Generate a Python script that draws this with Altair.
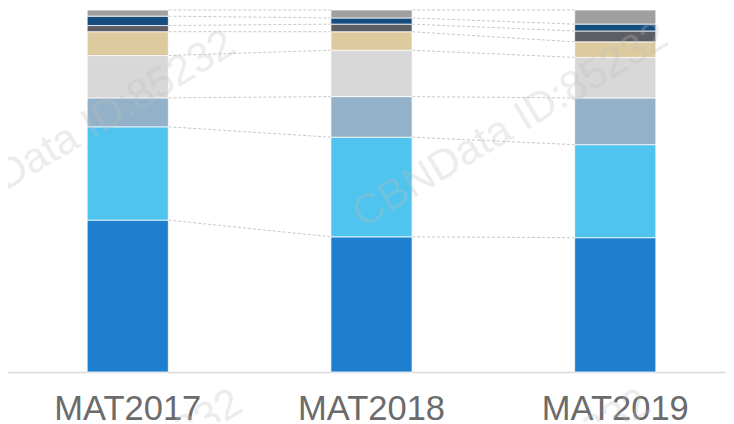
import altair as alt
import pandas as pd

categories = ["MAT2017", "MAT2018", "MAT2019"]
series = ["Series 1", "Series 2", "Series 3", "Series 4",
          "Series 5", "Series 6", "Series 7", "Series 8"]
colors = ["#1F7FCF", "#4FC4EF", "#93B2C9", "#D8D8D8",
          "#DDCB9F", "#5D5E63", "#154E7E", "#A0A19F"]
# values per series (bottom to top), one per category, percent
s1 = [42.0, 37.3, 37.1]
s2 = [25.8, 27.5, 25.7]
s3 = [8.0, 11.2, 12.9]
s4 = [11.7, 12.8, 11.2]
s5 = [6.6, 5.1, 4.3]
s6 = [1.7, 2.1, 3.0]
s7 = [2.6, 1.7, 1.9]
s8 = [1.7, 2.2, 3.9]
values = [s1, s2, s3, s4, s5, s6, s7, s8]
watermark = "CBNData ID:85232"

rows = []
for k, (name, vals) in enumerate(zip(series, values)):
    for c, v in zip(categories, vals):
        rows.append({"cat": c, "series": name, "value": v, "order": k})
bars_df = pd.DataFrame(rows)

# connector lines between cumulative boundaries of neighbouring bars
totals = [sum(v[i] for v in values) for i in range(len(categories))]
conn = []
for i in range(len(categories) - 1):
    cum_a = 0.0
    cum_b = 0.0
    for k in range(len(series)):
        cum_a += values[k][i]
        cum_b += values[k][i + 1]
        conn.append({"from": categories[i], "to": categories[i + 1],
                     "ya": cum_a / totals[i], "yb": cum_b / totals[i + 1]})
conn_df = pd.DataFrame(conn)

wm_df = pd.DataFrame({"t": [watermark] * 4,
                      "px": [69, 502, 76, 484],
                      "py": [123, 115, 482, 482]})

xscale = alt.Scale(domain=categories, range=[-2, 729],
                   paddingInner=0.667, paddingOuter=0.333)
yscale = alt.Scale(domain=[0, 1])

xaxis = alt.Axis(title=None, labelAngle=0, labelAlign="center",
                 labelBaseline="alphabetic", bandPosition=0.5,
                 ticks=False, tickSize=0, labelFontSize=34.5,
                 labelFont="Liberation Sans", labelColor="#6B6B6B",
                 labelPadding=47, domainColor="#D9D9D9", domainWidth=1.5)

rules = alt.Chart(conn_df).mark_rule(
    color="#C8C8C8", strokeWidth=1, strokeDash=[3, 2]
).encode(
    x=alt.X("from:N", bandPosition=1, scale=xscale, sort=categories, axis=xaxis),
    x2=alt.X2("to:N", bandPosition=0),
    y=alt.Y("ya:Q", scale=yscale, axis=None),
    y2="yb:Q",
)

bars = alt.Chart(bars_df).mark_bar(stroke="#FFFFFF", strokeWidth=0.75).encode(
    x=alt.X("cat:N", scale=xscale, sort=categories, axis=xaxis),
    y=alt.Y("value:Q", stack="normalize", scale=yscale, axis=None),
    color=alt.Color("series:N", scale=alt.Scale(domain=series, range=colors),
                    legend=None),
    order=alt.Order("order:Q"),
)

marks = alt.Chart(wm_df).mark_text(
    font="Liberation Sans", fontSize=42, angle=329, color="#BDBDBD",
    opacity=0.28, align="center", baseline="middle"
).encode(
    text="t:N",
    x=alt.X("px:Q", scale=None),
    y=alt.Y("py:Q", scale=None),
)

chart = alt.layer(rules, bars, marks).properties(
    width=718, height=362,
    padding={"left": 0, "top": 2, "right": 0, "bottom": 50},
    autosize=alt.AutoSizeParams(type="none"),
).configure_view(stroke=None).configure_axis(grid=False)

chart.save("out.html", embed_options={"renderer": "svg", "actions": False})
